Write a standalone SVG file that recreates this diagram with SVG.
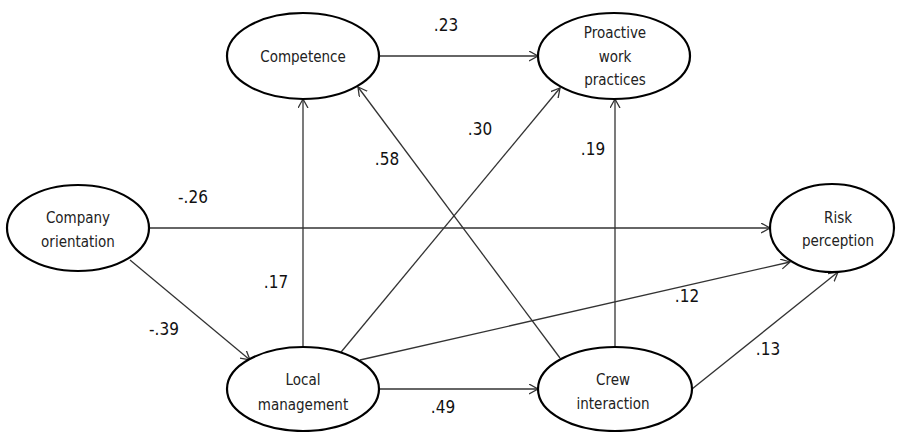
<svg xmlns="http://www.w3.org/2000/svg" width="897" height="432" viewBox="0 0 897 432">
<defs>
<style>
.node ellipse{fill:#fff;stroke:#000;stroke-width:2.2}
.node text{font-family:"DejaVu Sans Condensed","Liberation Sans Narrow",sans-serif;font-size:15px;fill:#222;text-anchor:middle}
.edges line{stroke:#333;stroke-width:1.3;fill:none;marker-end:url(#arr)}
.lbl text{font-family:"DejaVu Sans Condensed","Liberation Sans Narrow",sans-serif;font-size:17px;fill:#111;text-anchor:middle}
</style>
<marker id="arr" markerUnits="userSpaceOnUse" markerWidth="12" markerHeight="12" refX="9" refY="5" orient="auto">
<path d="M0,0 L9,5 L0,10" fill="none" stroke="#333" stroke-width="1.3"/>
</marker>
</defs>
<rect width="897" height="432" fill="#fff"/>
<g class="edges" id="connectors">
<line x1="380" y1="56" x2="538" y2="56"/>
<line x1="303" y1="347" x2="303" y2="99"/>
<line x1="337" y1="357" x2="560" y2="88"/>
<line x1="560" y1="358" x2="358" y2="87"/>
<line x1="615" y1="347" x2="615" y2="99"/>
<line x1="149" y1="228" x2="770" y2="228"/>
<line x1="130" y1="260" x2="250" y2="360"/>
<line x1="360" y1="360" x2="790" y2="262"/>
<line x1="380" y1="389" x2="538" y2="389"/>
<line x1="692" y1="389" x2="838" y2="272"/>
</g>
<g class="node" id="competence"><ellipse cx="303" cy="56" rx="76" ry="43"/><text x="303" y="62">Competence</text></g>
<g class="node" id="proactive"><ellipse cx="614" cy="56" rx="76" ry="43"/><text x="615" y="38">Proactive</text><text x="615" y="62">work</text><text x="615" y="85">practices</text></g>
<g class="node" id="company"><ellipse cx="78" cy="228" rx="71" ry="43"/><text x="78" y="223">Company</text><text x="78" y="247">orientation</text></g>
<g class="node" id="local"><ellipse cx="303" cy="389" rx="76" ry="42"/><text x="303" y="385">Local</text><text x="303" y="410">management</text></g>
<g class="node" id="crew"><ellipse cx="615" cy="389" rx="77" ry="42"/><text x="613" y="385">Crew</text><text x="613" y="409">interaction</text></g>
<g class="node" id="risk"><ellipse cx="832" cy="228" rx="62" ry="44"/><text x="838" y="223">Risk</text><text x="838" y="246">perception</text></g>
<g class="lbl" id="labels">
<text x="446" y="31">.23</text>
<text x="480" y="135">.30</text>
<text x="593" y="155">.19</text>
<text x="387" y="165">.58</text>
<text x="193" y="203">-.26</text>
<text x="276" y="288">.17</text>
<text x="164" y="335">-.39</text>
<text x="687" y="302">.12</text>
<text x="768" y="355">.13</text>
<text x="443" y="413">.49</text>
</g>
</svg>
